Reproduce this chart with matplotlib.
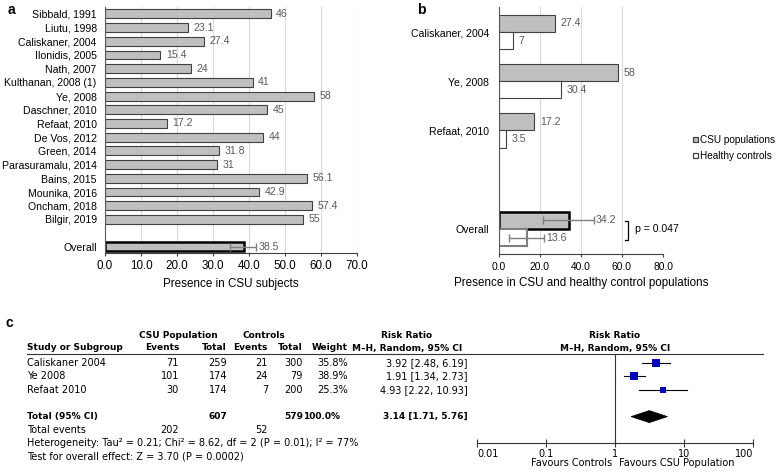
import matplotlib
matplotlib.use('Agg')
import matplotlib.pyplot as plt
from matplotlib.patches import Polygon, Patch
from matplotlib.ticker import FixedLocator, FuncFormatter

W, H = 777, 476

# ---------------- data ----------------
# panel a
studies_a = ["Sibbald, 1991", "Liutu, 1998", "Caliskaner, 2004", "Ilonidis, 2005", "Nath, 2007",
             "Kulthanan, 2008 (1)", "Ye, 2008", "Daschner, 2010", "Refaat, 2010", "De Vos, 2012",
             "Green, 2014", "Parasuramalu, 2014", "Bains, 2015", "Mounika, 2016", "Oncham, 2018",
             "Bilgir, 2019"]
values_a = [46, 23.1, 27.4, 15.4, 24, 41, 58, 45, 17.2, 44, 31.8, 31, 56.1, 42.9, 57.4, 55]
overall_a = 38.5
overall_a_lo, overall_a_hi = 34.8, 42.0
xticks_a = [0, 10, 20, 30, 40, 50, 60, 70]

# panel b
studies_b = ["Caliskaner, 2004", "Ye, 2008", "Refaat, 2010"]
csu_b = [27.4, 58, 17.2]
ctrl_b = [7, 30.4, 3.5]
overall_csu_b = 34.2
overall_csu_lo, overall_csu_hi = 21.5, 46.3
overall_ctrl_b = 13.6
overall_ctrl_lo, overall_ctrl_hi = 5.0, 22.0
p_label = "p = 0.047"
xticks_b = [0, 20, 40, 60, 80]
legend_b = ["CSU populations", "Healthy controls"]

# panel c
fp_studies = ["Caliskaner 2004", "Ye 2008", "Refaat 2010"]
csu_events = [71, 101, 30]
csu_total = [259, 174, 174]
ctrl_events = [21, 24, 7]
ctrl_total = [300, 79, 200]
weights = [35.8, 38.9, 25.3]
rr = [3.92, 1.91, 4.93]
rr_lo = [2.48, 1.34, 2.22]
rr_hi = [6.19, 2.73, 10.93]
total_rr, total_lo, total_hi = 3.14, 1.71, 5.76
total_weight = 100.0
heterogeneity = "Heterogeneity: Tau\u00b2 = 0.21; Chi\u00b2 = 8.62, df = 2 (P = 0.01); I\u00b2 = 77%"
overall_test = "Test for overall effect: Z = 3.70 (P = 0.0002)"
fp_ticks = [0.01, 0.1, 1, 10, 100]

# ---------------- styling ----------------
AB_FONT = ['Liberation Sans', 'DejaVu Sans']
C_FONT = ['DejaVu Sans']
FS = 7.6
FS_TICK_A = 8.4
FS_TICK_B = 7.4
FS_XLAB = 8.4
FS_LEG = 7.2
FSC = 7.0
FSB = 6.5
GRAY = '#BFBFBF'
EDGE = '#404040'
LBL = '#595959'
AXC = '#404040'

plt.rcParams['font.family'] = AB_FONT

fig = plt.figure(figsize=(W / 100, H / 100), dpi=100)


def rect(l, t, r, b):
    return [l / W, (H - b) / H, (r - l) / W, (b - t) / H]


# overlay axes in pixel coordinates (for table text)
ov = fig.add_axes([0, 0, 1, 1], zorder=-1)
ov.set_xlim(0, W)
ov.set_ylim(H, 0)
ov.axis('off')
ov.patch.set_visible(False)

# panel letters
fig.text(8 / W, 1 - 10 / H, 'a', fontsize=10, fontweight='bold', va='center', ha='left')
fig.text(417 / W, 1 - 10 / H, 'b', fontsize=10, fontweight='bold', va='center', ha='left')
fig.text(5 / W, 1 - 323 / H, 'c', fontsize=10, fontweight='bold', va='center', ha='left')

# ---------------- panel a ----------------
axa = fig.add_axes(rect(105, 7, 357, 253))
ypos_a = list(range(len(studies_a)))
y_over_a = len(studies_a) + 1
axa.barh(ypos_a, values_a, height=0.65, color=GRAY, edgecolor=EDGE, linewidth=0.8, zorder=2)
axa.barh([y_over_a], [overall_a], height=0.65, color=GRAY, edgecolor='black', linewidth=1.8, zorder=2)
axa.errorbar([overall_a], [y_over_a], xerr=[[overall_a - overall_a_lo], [overall_a_hi - overall_a]],
             fmt='none', ecolor='#7F7F7F', elinewidth=1, capsize=3, capthick=1, zorder=3)
for y, v in zip(ypos_a, values_a):
    axa.annotate('%g' % v, xy=(v, y), xytext=(4, 0), textcoords='offset points',
                 va='center', ha='left', fontsize=FS, color=LBL)
axa.annotate('%g' % overall_a, xy=(overall_a_hi, y_over_a), xytext=(1.5, 0), textcoords='offset points',
             va='center', ha='left', fontsize=FS, color=LBL)
axa.set_xlim(0, 70)
axa.set_ylim(y_over_a + 0.45, -0.5)
axa.set_xticks(xticks_a)
axa.set_xticklabels(['%.1f' % t for t in xticks_a], fontsize=FS_TICK_A)
axa.set_yticks(ypos_a + [y_over_a])
axa.set_yticklabels(studies_a + ['Overall'], fontsize=FS)
axa.tick_params(axis='y', length=0, pad=6)
axa.tick_params(axis='x', length=2.5, width=0.8, color=AXC, pad=2.5)
axa.xaxis.grid(True, color='#D9D9D9', linewidth=0.8)
axa.set_axisbelow(True)
for s in ['top', 'right']:
    axa.spines[s].set_visible(False)
axa.spines['left'].set_color('#595959')
axa.spines['bottom'].set_color(AXC)
axa.spines['bottom'].set_linewidth(0.8)
axa.set_xlabel('Presence in CSU subjects', fontsize=FS_XLAB, labelpad=4)

# ---------------- panel b ----------------
axb = fig.add_axes(rect(499, 7, 663, 254))
ypos_b = list(range(len(studies_b)))
y_over_b = len(studies_b) + 1
off_c, off_h, hb = -0.18, 0.17, 0.35
axb.barh([y + off_c for y in ypos_b], csu_b, height=hb, color=GRAY, edgecolor=EDGE, linewidth=0.8, zorder=2)
axb.barh([y + off_h for y in ypos_b], ctrl_b, height=hb, color='white', edgecolor=EDGE, linewidth=0.8, zorder=2)
axb.barh([y_over_b + off_c], [overall_csu_b], height=hb, color=GRAY, edgecolor='black', linewidth=1.8, zorder=2)
axb.barh([y_over_b + off_h], [overall_ctrl_b], height=hb, color='white', edgecolor='#7F7F7F', linewidth=1.5, zorder=2)
axb.errorbar([overall_csu_b], [y_over_b + off_c],
             xerr=[[overall_csu_b - overall_csu_lo], [overall_csu_hi - overall_csu_b]],
             fmt='none', ecolor='#7F7F7F', elinewidth=1, capsize=3, capthick=1, zorder=3)
axb.errorbar([overall_ctrl_b], [y_over_b + off_h],
             xerr=[[overall_ctrl_b - overall_ctrl_lo], [overall_ctrl_hi - overall_ctrl_b]],
             fmt='none', ecolor='#7F7F7F', elinewidth=1, capsize=3, capthick=1, zorder=3)
for y, v in zip(ypos_b, csu_b):
    axb.annotate('%g' % v, xy=(v, y + off_c), xytext=(4, 0), textcoords='offset points',
                 va='center', ha='left', fontsize=FS, color=LBL)
for y, v in zip(ypos_b, ctrl_b):
    axb.annotate('%g' % v, xy=(v, y + off_h), xytext=(4, 0), textcoords='offset points',
                 va='center', ha='left', fontsize=FS, color=LBL)
axb.annotate('%g' % overall_csu_b, xy=(overall_csu_hi, y_over_b + off_c), xytext=(1.5, 0),
             textcoords='offset points', va='center', ha='left', fontsize=FS, color=LBL)
axb.annotate('%g' % overall_ctrl_b, xy=(overall_ctrl_hi, y_over_b + off_h), xytext=(1.5, 0),
             textcoords='offset points', va='center', ha='left', fontsize=FS, color=LBL)
# p-value bracket
bx = 63
axb.plot([bx - 1.5, bx, bx, bx - 1.5], [y_over_b - 0.17, y_over_b - 0.17, y_over_b + 0.22, y_over_b + 0.22],
         color='black', linewidth=0.9, clip_on=False)
axb.text(bx + 3.5, y_over_b, p_label, va='center', ha='left', fontsize=FS, clip_on=False)
axb.set_xlim(0, 80)
axb.set_ylim(y_over_b + 0.5, -0.51)
axb.set_xticks(xticks_b)
axb.set_xticklabels(['%.1f' % t for t in xticks_b], fontsize=FS_TICK_B)
axb.set_yticks(ypos_b + [y_over_b])
axb.set_yticklabels(studies_b + ['Overall'], fontsize=FS)
axb.tick_params(axis='y', length=0, pad=7)
axb.tick_params(axis='x', length=2.5, width=0.8, color=AXC, pad=3)
axb.xaxis.grid(True, color='#D9D9D9', linewidth=0.8)
axb.set_axisbelow(True)
for s in ['top', 'right']:
    axb.spines[s].set_visible(False)
axb.spines['left'].set_color('#595959')
axb.spines['bottom'].set_color(AXC)
axb.spines['bottom'].set_linewidth(0.8)
axb.set_xlabel('Presence in CSU and healthy control populations', fontsize=FS_XLAB, labelpad=4)
handles = [Patch(facecolor=GRAY, edgecolor=EDGE, linewidth=0.9),
           Patch(facecolor='white', edgecolor=EDGE, linewidth=0.9)]
fig.legend(handles, legend_b, loc='upper left', bbox_to_anchor=(688 / W, 1 - 130 / H),
           frameon=False, fontsize=FS_LEG, handlelength=0.5, handleheight=0.5,
           handletextpad=0.25, labelspacing=0.6, borderpad=0)

# ---------------- panel c ----------------
def row_y(i):
    return 363 + 13.4 * i


ckw = dict(family=C_FONT, fontsize=FSC, va='center')
bkw = dict(family=C_FONT, fontsize=FSB, va='center', fontweight='bold')
# headers
ov.text(178, 335, 'CSU Population', ha='center', **bkw)
ov.text(264, 335, 'Controls', ha='center', **bkw)
ov.text(407, 335, 'Risk Ratio', ha='center', **bkw)
ov.text(615, 335, 'Risk Ratio', ha='center', **bkw)
ov.text(27, 348, 'Study or Subgroup', ha='left', **bkw)
ov.text(179, 348, 'Events', ha='right', **bkw)
ov.text(227, 348, 'Total', ha='right', **bkw)
ov.text(268, 348, 'Events', ha='right', **bkw)
ov.text(303, 348, 'Total', ha='right', **bkw)
ov.text(348, 348, 'Weight', ha='right', **bkw)
ov.text(407, 348, 'M\u2013H, Random, 95% CI', ha='center', **bkw)
ov.text(615, 348, 'M\u2013H, Random, 95% CI', ha='center', **bkw)
ov.plot([27, 763], [354, 354], color='#333333', linewidth=0.8)

for i, name in enumerate(fp_studies):
    y = row_y(i)
    ov.text(27, y, name, ha='left', **ckw)
    ov.text(179, y, str(csu_events[i]), ha='right', **ckw)
    ov.text(227, y, str(csu_total[i]), ha='right', **ckw)
    ov.text(268, y, str(ctrl_events[i]), ha='right', **ckw)
    ov.text(303, y, str(ctrl_total[i]), ha='right', **ckw)
    ov.text(348, y, '%.1f%%' % weights[i], ha='right', **ckw)
    ov.text(468, y, '%.2f [%.2f, %.2f]' % (rr[i], rr_lo[i], rr_hi[i]), ha='right', **ckw)

yt = row_y(4)
ov.text(27, yt, 'Total (95% CI)', ha='left', **bkw)
ov.text(227, yt, str(sum(csu_total)), ha='right', **bkw)
ov.text(303, yt, str(sum(ctrl_total)), ha='right', **bkw)
ov.text(340, yt, '%.1f%%' % total_weight, ha='right', **bkw)
ov.text(468, yt, '%.2f [%.2f, %.2f]' % (total_rr, total_lo, total_hi), ha='right', **bkw)
ov.text(27, row_y(5), 'Total events', ha='left', **ckw)
ov.text(179, row_y(5), str(sum(csu_events)), ha='right', **ckw)
ov.text(268, row_y(5), str(sum(ctrl_events)), ha='right', **ckw)
ov.text(27, row_y(6), heterogeneity, ha='left', **ckw)
ov.text(27, row_y(7), overall_test, ha='left', **ckw)

# forest plot
axf = fig.add_axes(rect(477, 354, 753, 443))
axf.set_xscale('log')
axf.set_xlim(0.01, 100)
axf.set_ylim((443 - 363) / 13.4, (354 - 363) / 13.4)
axf.axvline(1, color='#333333', linewidth=0.8)
for i in range(len(rr)):
    axf.plot([rr_lo[i], rr_hi[i]], [i, i], color='black', linewidth=0.8, zorder=2)
    axf.plot([rr[i]], [i], marker='s', color='#0000C0', markersize=weights[i] * 0.16,
             markeredgewidth=0, zorder=3)
hd = 0.45
axf.add_patch(Polygon([(total_lo, 4), (total_rr, 4 - hd), (total_hi, 4), (total_rr, 4 + hd)],
                      closed=True, facecolor='black', edgecolor='black', linewidth=0.5))
for s in ['top', 'right', 'left']:
    axf.spines[s].set_visible(False)
axf.spines['bottom'].set_color('#333333')
axf.spines['bottom'].set_linewidth(0.8)
axf.patch.set_visible(False)
axf.set_yticks([])
axf.xaxis.set_major_locator(FixedLocator(fp_ticks))
axf.xaxis.set_minor_locator(FixedLocator([]))
axf.xaxis.set_major_formatter(FuncFormatter(lambda v, p: '%g' % v))
axf.tick_params(axis='x', direction='inout', length=6, width=0.8, pad=1, labelsize=FSC, color='#333333')
fig.canvas.draw()
xt_labels = axf.get_xticklabels()
for lab in xt_labels:
    lab.set_family(C_FONT)
xt_labels[0].set_ha('left')
xt_labels[-1].set_ha('right')
ov.text(612, 463, 'Favours Controls', ha='right', **ckw)
ov.text(619, 463, 'Favours CSU Population', ha='left', **ckw)

fig.savefig('out.png', dpi=100)
